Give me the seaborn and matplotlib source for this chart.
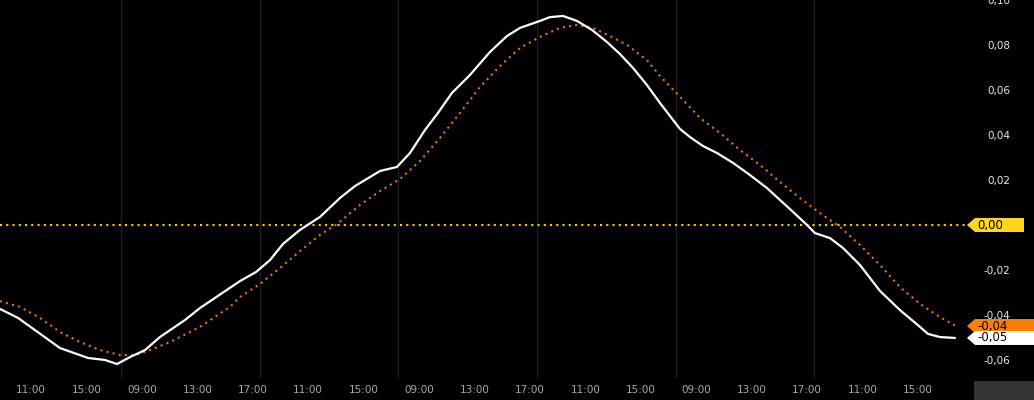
import matplotlib
matplotlib.use("Agg")
import matplotlib.pyplot as plt
import seaborn as sns
import pandas as pd
from matplotlib.patches import Polygon, Rectangle

# ---- data (x = trading hours from day-0 07:30, 10 trading hours per day) ----
macd_x = [1.26, 2.56, 5.59, 7.61, 8.84, 9.70, 10.64, 11.72, 12.80, 14.61, 15.69,
          18.58, 19.73, 20.74, 21.68, 22.90, 24.35, 25.79, 26.87, 28.68, 29.90,
          30.84, 31.92, 32.86, 33.87, 35.17, 36.61, 37.84, 38.78, 40.22, 40.94,
          41.88, 42.89, 43.97, 45.06, 45.99, 46.93, 47.94, 48.88, 50.32, 51.04,
          51.98, 52.99, 54.15, 55.37, 56.60, 57.54, 58.48, 59.49, 60.06, 61.14,
          62.08, 63.31, 64.75, 66.19, 67.64, 68.21, 69.08, 70.16]
macd_y = [-0.0373, -0.0413, -0.0547, -0.0591, -0.0600, -0.0618, -0.0587, -0.0556,
          -0.0498, -0.0422, -0.0369, -0.0249, -0.0209, -0.0156, -0.0084, -0.0022,
          0.0036, 0.0120, 0.0173, 0.0240, 0.0258, 0.0320, 0.0422, 0.0498, 0.0587,
          0.0667, 0.0769, 0.0840, 0.0876, 0.0907, 0.0924, 0.0929, 0.0907, 0.0867,
          0.0813, 0.0760, 0.0698, 0.0622, 0.0542, 0.0427, 0.0391, 0.0351, 0.0320,
          0.0276, 0.0222, 0.0164, 0.0111, 0.0058, 0.0000, -0.0036, -0.0058,
          -0.0102, -0.0178, -0.0293, -0.0378, -0.0453, -0.0484, -0.0498, -0.0502]

signal_x = [1.26, 2.70, 4.15, 5.59, 7.03, 8.47, 9.92, 11.00, 12.08, 13.53, 15.69,
            17.85, 18.58, 20.02, 21.46, 22.90, 24.35, 25.57, 27.23, 28.68, 30.12,
            31.56, 33.01, 34.45, 35.89, 37.34, 38.78, 40.22, 41.66, 42.89, 44.04,
            45.27, 46.50, 47.94, 48.88, 50.68, 51.76, 53.21, 54.65, 56.09, 57.54,
            58.98, 60.42, 61.87, 63.31, 64.75, 66.19, 67.64, 69.08, 70.23]
signal_y = [-0.0338, -0.0364, -0.0413, -0.0476, -0.0520, -0.0556, -0.0578, -0.0578,
            -0.0556, -0.0520, -0.0453, -0.0364, -0.0320, -0.0262, -0.0191, -0.0116,
            -0.0044, 0.0004, 0.0089, 0.0151, 0.0204, 0.0284, 0.0387, 0.0498, 0.0613,
            0.0707, 0.0787, 0.0836, 0.0876, 0.0889, 0.0876, 0.0840, 0.0800, 0.0733,
            0.0662, 0.0547, 0.0476, 0.0409, 0.0333, 0.0267, 0.0191, 0.0120, 0.0053,
            -0.0009, -0.0089, -0.0178, -0.0276, -0.0351, -0.0409, -0.0449]

tick_pos = [3.5 + 4 * k for k in range(17)]
tick_labels = ["11:00", "15:00", "09:00", "13:00", "17:00", "11:00", "15:00",
               "09:00", "13:00", "17:00", "11:00", "15:00", "09:00", "13:00",
               "17:00", "11:00", "15:00"]
day_breaks = [10, 20, 30, 40, 50, 60]
y_ticks = [-0.06, -0.04, -0.02, 0.0, 0.02, 0.04, 0.06, 0.08, 0.10]
tags = [(0.0, "0,00", "#ffd61a", 1024), (-0.0449, "-0,04", "#ff7f00", 1034),
        (-0.0502, "-0,05", "#ffffff", 1034)]

sns.set_theme(style="dark")
plt.rcParams["font.family"] = ["DejaVu Sans"]

W, H = 1034, 400
fig = plt.figure(figsize=(W / 100, H / 100), dpi=100, facecolor="black")
ax = fig.add_axes([0, 22 / H, 967 / W, 378 / H])
ax.set_facecolor("black")
for s in ax.spines.values():
    s.set_visible(False)

ax.set_xlim(1.26, 1.26 + 967 / 13.86)
ax.set_ylim(-0.068, 0.100)

ax.axhline(0, color="#f5d000", lw=1.5, linestyle=(0, (1, 2)), zorder=2)

df_m = pd.DataFrame({"x": macd_x, "y": macd_y})
df_s = pd.DataFrame({"x": signal_x, "y": signal_y})
sns.lineplot(data=df_s, x="x", y="y", ax=ax, color="#e8780a", lw=1.5,
             linestyle=(0, (1, 2)), zorder=3)
sns.lineplot(data=df_m, x="x", y="y", ax=ax, color="#ffffff", lw=1.6, zorder=4)

ax.set_xlabel("")
ax.set_ylabel("")
ax.set_xticks(tick_pos)
ax.set_xticklabels(tick_labels)
ax.set_xticks(day_breaks, minor=True)
ax.grid(False)
ax.grid(which="minor", axis="x", color="#1e1e1e", lw=1)
ax.tick_params(axis="x", which="both", length=0, pad=5, labelsize=7.5,
               labelcolor="#a8a8a8")

ax.yaxis.tick_right()
ax.set_yticks(y_ticks)
# the 0,00 level is shown by its tag instead of a plain tick label
ax.set_yticklabels(["" if v == 0 else f"{v:.2f}".replace(".", ",") for v in y_ticks])
ax.tick_params(axis="y", length=0, pad=31.5, labelsize=7.5, labelcolor="#e8e8e8")
for lab in ax.get_yticklabels():
    lab.set_ha("right")

fig.canvas.draw()
# value tags on the right axis
for val, txt, col, right in tags:
    yp = ax.transData.transform((0, val))[1]
    x0 = 967
    h = 7
    poly = Polygon([[x0, yp], [x0 + 8, yp + h], [right, yp + h], [right, yp - h],
                    [x0 + 8, yp - h]], closed=True, transform=None,
                   facecolor=col, edgecolor="none", zorder=10)
    fig.patches.append(poly)
    fig.text(977 / W, yp / H, txt, ha="left", va="center", fontsize=8.5,
             color="black", zorder=11)

fig.patches.append(Rectangle((974 / W, 0), 60 / W, 19 / H, transform=fig.transFigure,
                             facecolor="#333333", edgecolor="none"))

fig.savefig("out.png", dpi=100, facecolor="black")
